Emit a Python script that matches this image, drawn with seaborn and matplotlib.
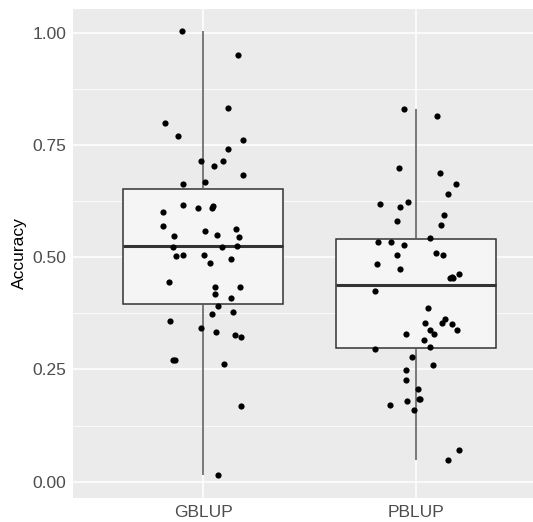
import matplotlib as mpl
mpl.use("Agg")
import matplotlib.pyplot as plt
import numpy as np
import pandas as pd
import seaborn as sns

# values; jitter = horizontal offset from category centre
methods = ["GBLUP", "PBLUP"]

gblup_acc = [1.004, 0.950, 0.832, 0.800, 0.769, 0.760, 0.740, 0.714, 0.703, 0.715, 0.683, 0.663, 0.667,
             0.616, 0.610, 0.613, 0.609, 0.600, 0.570, 0.547, 0.558, 0.550, 0.562, 0.545,
             0.523, 0.523, 0.525, 0.503, 0.504, 0.506, 0.497, 0.487, 0.444, 0.433, 0.433, 0.419, 0.409,
             0.391, 0.373, 0.377, 0.359, 0.342, 0.334, 0.327, 0.323, 0.270, 0.272, 0.263, 0.168, 0.015]
gblup_jit = [-0.097, 0.166, 0.117, -0.18, -0.116, 0.188, 0.119, -0.008, 0.05, 0.094, 0.189, -0.095, 0.01,
             -0.096, -0.025, 0.048, 0.041, -0.19, -0.19, -0.135, 0.011, 0.064, 0.155, 0.168,
             -0.141, 0.088, 0.161, -0.127, -0.092, 0.005, 0.13, 0.034, -0.159, 0.055, 0.175, 0.056, 0.13,
             0.072, 0.04, 0.141, -0.155, -0.008, 0.062, 0.148, 0.178, -0.139, -0.131, 0.097, 0.177, 0.069]

pblup_acc = [0.829, 0.815, 0.699, 0.688, 0.664, 0.641, 0.618, 0.612, 0.623, 0.581, 0.595, 0.572, 0.542,
             0.535, 0.533, 0.528, 0.506, 0.510, 0.506, 0.485, 0.473, 0.463, 0.453, 0.453, 0.456,
             0.424, 0.387, 0.353, 0.354, 0.362, 0.351, 0.338, 0.339, 0.330, 0.328, 0.315, 0.301, 0.296,
             0.277, 0.259, 0.249, 0.227, 0.207, 0.185, 0.184, 0.180, 0.170, 0.160, 0.071, 0.049]
pblup_jit = [-0.058, 0.095, -0.083, 0.113, 0.188, 0.149, -0.169, -0.077, -0.038, -0.089, 0.128, 0.116, 0.062,
             -0.18, -0.117, -0.06, -0.089, 0.094, 0.127, -0.185, -0.077, 0.199, 0.159, 0.172, 0.165,
             -0.194, 0.053, 0.042, 0.122, 0.133, 0.166, 0.192, 0.062, 0.083, -0.05, 0.034, 0.062, -0.194,
             -0.02, 0.08, -0.05, -0.047, 0.006, 0.017, 0.013, -0.044, -0.122, -0.012, 0.202, 0.150]

df = pd.DataFrame({
    "method": ["GBLUP"] * len(gblup_acc) + ["PBLUP"] * len(pblup_acc),
    "Accuracy": gblup_acc + pblup_acc,
    "jitter": gblup_jit + pblup_jit,
})
df["xpos"] = df["method"].map({m: i for i, m in enumerate(methods)}) + df["jitter"]

sns.set_theme(style="darkgrid", rc={
    "axes.facecolor": "#EBEBEB",
    "grid.color": "white",
    "axes.edgecolor": "#EBEBEB",
})
plt.rcParams["font.family"] = ["Liberation Sans", "DejaVu Sans"]

fig = plt.figure(figsize=(5.33, 5.22), dpi=100)
ax = fig.add_axes([73 / 533, (522 - 497.7) / 522, (533 - 73) / 533, (497.7 - 8.7) / 522])

line_c = "#333333"
sns.boxplot(
    data=df, x="method", y="Accuracy", order=methods, ax=ax,
    color="#F5F5F5", saturation=1, width=0.75, showfliers=False,
    linewidth=1.1, linecolor=line_c,
    whiskerprops={"color": "#555555", "linewidth": 1.1},
    medianprops={"color": line_c, "linewidth": 2.2},
    capprops={"linewidth": 0},
    zorder=2,
)
sns.scatterplot(data=df, x="xpos", y="Accuracy", color="black", s=20,
                linewidth=0, ax=ax, zorder=3)

ax.set_xlim(-0.61, (533 - 203) / 213.3)
ax.set_ylim(-0.0356, 1.0535)
ax.set_xticks([0, 1])
ax.set_xticklabels(methods)
ax.set_yticks([0, 0.25, 0.5, 0.75, 1.0])
ax.set_yticklabels(["0.00", "0.25", "0.50", "0.75", "1.00"])
ax.set_yticks([0.125, 0.375, 0.625, 0.875], minor=True)
ax.grid(True, which="major", color="white", linewidth=1.1)
ax.grid(True, which="minor", color="white", linewidth=0.55)
ax.set_axisbelow(True)
for s in ax.spines.values():
    s.set_visible(False)
ax.tick_params(axis="both", which="major", length=3, width=0.8, color=line_c,
               labelcolor="#4D4D4D", labelsize=12.5, pad=2)
ax.tick_params(axis="both", which="minor", length=0)
ax.set_xlabel("")
ax.set_ylabel("Accuracy", fontsize=12.5, color="black")
ax.yaxis.set_label_coords(-0.1, 0.5)

fig.savefig("out.png", dpi=100)
